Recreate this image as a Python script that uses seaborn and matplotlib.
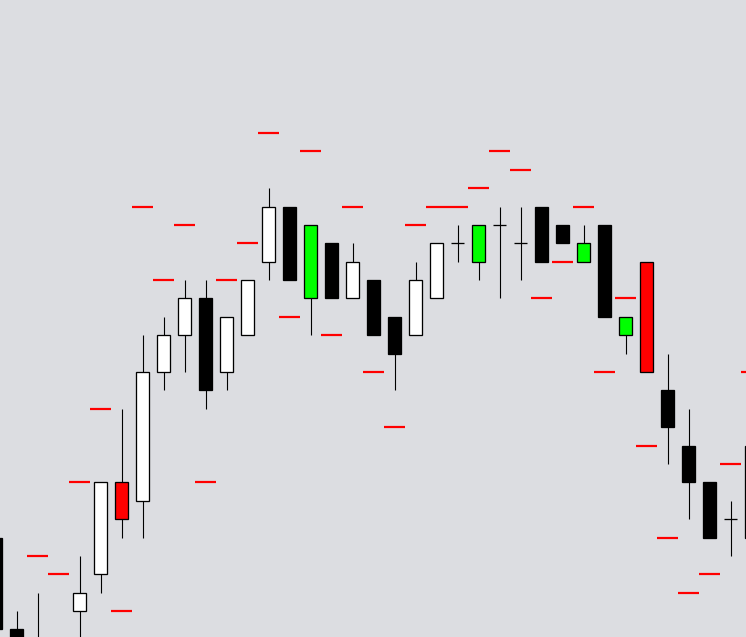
import numpy as np
import pandas as pd
import seaborn as sns
import matplotlib
matplotlib.use("Agg")
import matplotlib.pyplot as plt

# prices are in ticks (one tick = one step of the price grid)
bar_no = list(range(-1, 36))
opens  = [5, 0, -1, -3, 1, 3, 8, 7, 14, 16, 18, 14, 16, 20, 23, 18, 21, 18, 19, 17, 16, 18,
          21, 20, 22, 21, 23, 22, 20, 22, 16, 20, 13, 10, 8, 6, 10]
highs  = [5, 1, 2, -1, 4, 8, 12, 16, 17, 19, 19, 17, 19, 24, 23, 22, 21, 21, 19, 17, 20, 21,
          22, 22, 23, 23, 23, 22, 22, 22, 17, 20, 15, 12, 8, 7, 10]
lows   = [-1, -3, -3, -4, -2, 2, 5, 5, 13, 14, 12, 13, 16, 19, 19, 16, 18, 18, 16, 13, 16, 18,
          20, 19, 18, 19, 20, 21, 20, 17, 15, 14, 9, 6, 5, 4, 5]
closes = [0, -2, -2, -2, 2, 8, 6, 14, 16, 18, 13, 17, 19, 23, 19, 22, 18, 20, 16, 15, 19, 21,
          21, 22, 22, 21, 20, 21, 21, 17, 17, 14, 11, 8, 5, 6, 5]
# signal candles painted in colour
signal_bars = [5, 14, 22, 27, 29, 30]
signal_cols = ['#ff0000', '#00ff00', '#00ff00', '#00ff00', '#00ff00', '#ff0000']
# red level mark drawn on each bar
levels = [np.nan, np.nan, 4, 3, 8, 12, 1, 23, 19, 22, 8, 19, 21, 27, 17, 26, 16, 23, 14, 11,
          22, 23, 23, 24, 26, 25, 18, 20, 23, 14, 18, 10, 5, 2, 3, 9, 14]

bg = '#dcdde1'
sns.set_theme(style="white", rc={"axes.facecolor": bg, "figure.facecolor": bg})

df = pd.DataFrame({"bar": bar_no, "open": opens, "high": highs, "low": lows,
                   "close": closes, "level": levels})
df["fill"] = np.where(df["close"] > df["open"], "white", "black")
for b, c in zip(signal_bars, signal_cols):
    df.loc[df["bar"] == b, "fill"] = c

fig = plt.figure(figsize=(7.46, 6.37), dpi=100)
ax = fig.add_axes([0, 0, 1, 1])

px = 0.72  # one pixel in points
w = 0.58

# wicks
ax.vlines(df["bar"], df["low"], df["high"], color="black", lw=1.1 * px, zorder=1)

# bodies
body = df[df["open"] != df["close"]]
bottom = body[["open", "close"]].min(axis=1)
height = (body["close"] - body["open"]).abs()
ax.bar(body["bar"], height, bottom=bottom, width=w, color=body["fill"],
       edgecolor="black", linewidth=1.3 * px, zorder=2)

# doji
doji = df[df["open"] == df["close"]]
ax.hlines(doji["open"], doji["bar"] - w / 2 - 0.02, doji["bar"] + w / 2 + 0.02,
          color="black", lw=1.3 * px, zorder=2)

# level marks
ax.hlines(df["level"], df["bar"] - 0.5, df["bar"] + 0.5, color="#ff0000",
          lw=2.2 * px, zorder=3)

ax.set_xlim(-0.786, 34.738)
ax.set_ylim(-0.41, 34.23)
ax.set_xticks([])
ax.set_yticks([])
sns.despine(ax=ax, left=True, bottom=True)

fig.savefig("out.png", dpi=100, facecolor=bg)
